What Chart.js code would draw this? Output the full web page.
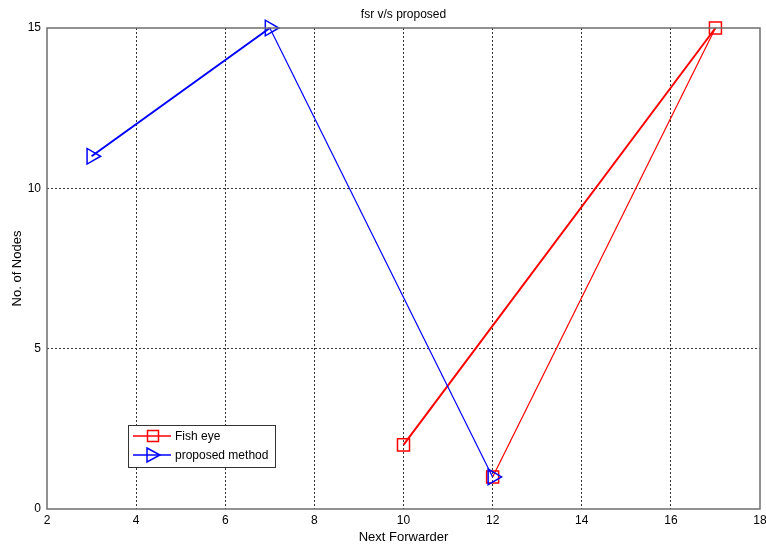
<!DOCTYPE html>
<html>
<head>
<meta charset="utf-8">
<script src="https://cdn.jsdelivr.net/npm/chart.js@4"></script>
<style>
  html, body { margin: 0; padding: 0; background: #fff; }
  #wrap { position: relative; width: 766px; height: 549px; }
</style>
</head>
<body>
<div id="wrap"><canvas id="c" width="766" height="549"></canvas></div>
<script>
// ---------- data ----------
const fishX = [10, 17, 12];
const fishY = [2, 15, 1];
const propX = [3, 7, 12];
const propY = [11, 15, 1];
const xTicks = [2, 4, 6, 8, 10, 12, 14, 16, 18];
const yTicks = [0, 5, 10, 15];
const seriesNames = ['Fish eye', 'proposed method'];
const chartTitle = 'fsr v/s proposed';

const FONT = 'Liberation Sans, Arial, sans-serif';
const pts = (xs, ys) => xs.map((x, i) => ({ x: x, y: ys[i] }));

// first segment drawn heavier, like the original plot
const segWidth = (ctx) => (ctx.p0DataIndex === 0 ? 2 : 1.2);
// no grid line on the box edges
const innerGrid = (n) => (c) => (c.index === 0 || c.index === n - 1 ? 'rgba(0,0,0,0)' : '#333');

// box around plot area + legend inside
const boxPlugin = {
  id: 'box',
  afterDraw(chart) {
    const { ctx, chartArea: a } = chart;
    ctx.save();
    ctx.strokeStyle = '#6e6e6e';
    ctx.lineWidth = 1.5;
    ctx.strokeRect(a.left, a.top, a.right - a.left, a.bottom - a.top);

    // legend
    const lx = 128, ly = 425, lw = 147, lh = 42;
    ctx.fillStyle = '#fff';
    ctx.fillRect(lx, ly, lw, lh);
    ctx.strokeStyle = '#333';
    ctx.lineWidth = 1;
    ctx.strokeRect(lx + 0.5, ly + 0.5, lw, lh);
    chart.data.datasets.forEach((ds, i) => {
      const y = ly + 11 + i * 19;
      ctx.strokeStyle = ds.borderColor;
      ctx.lineWidth = 1.5;
      ctx.beginPath();
      ctx.moveTo(lx + 5, y);
      ctx.lineTo(lx + 43, y);
      ctx.stroke();
      const cx = lx + 25;
      ctx.beginPath();
      if (i === 0) {
        ctx.rect(cx - 5.5, y - 5.5, 11, 11);
      } else {
        ctx.moveTo(cx - 6, y - 7);
        ctx.lineTo(cx + 7, y);
        ctx.lineTo(cx - 6, y + 7);
        ctx.closePath();
      }
      ctx.stroke();
      ctx.fillStyle = '#000';
      ctx.font = '12px ' + FONT;
      ctx.textBaseline = 'middle';
      ctx.fillText(ds.label, lx + 47, y + 1);
    });
    ctx.restore();
  },
};

new Chart(document.getElementById('c').getContext('2d'), {
  type: 'line',
  data: {
    datasets: [
      { label: seriesNames[0], data: pts(fishX, fishY), xAxisID: 'x', yAxisID: 'y', order: 2,
        borderColor: '#ff0000', backgroundColor: 'rgba(0,0,0,0)', pointStyle: 'rect', pointRadius: 8.5,
        pointBorderWidth: 1.5, pointBorderColor: '#ff0000', tension: 0, clip: false,
        segment: { borderWidth: segWidth } },
      { label: seriesNames[1], data: pts(propX, propY), xAxisID: 'x', yAxisID: 'y', order: 1,
        borderColor: '#0000ff', backgroundColor: 'rgba(0,0,0,0)', pointStyle: 'triangle', rotation: 90,
        pointRadius: 9, pointBorderWidth: 1.5, pointBorderColor: '#0000ff', tension: 0, clip: false,
        segment: { borderWidth: segWidth } },
    ],
  },
  options: {
    responsive: false,
    animation: false,
    layout: { autoPadding: false, padding: { left: 0, right: 6, top: 0, bottom: 0 } },
    plugins: { legend: { display: false }, tooltip: { enabled: false } },
    scales: {
      x: {
        type: 'linear', min: 2, max: 18,
        afterBuildTicks: (s) => { s.ticks = xTicks.map((v) => ({ value: v })); },
        afterFit: (s) => { s.height = 40; s.paddingLeft = 0; s.paddingRight = 0; },
        ticks: { color: '#000', padding: 4, font: { family: FONT, size: 12 } },
        grid: { color: innerGrid(xTicks.length), lineWidth: 1, drawTicks: false },
        border: { display: false, dash: [2, 2] },
        title: { display: true, text: 'Next Forwarder', color: '#000', padding: { top: 0, bottom: 4 },
                 font: { family: FONT, size: 13 } },
      },
      // top axis only carries the title, centred over the plot like the original
      x2: {
        type: 'linear', position: 'top', min: 2, max: 18,
        afterFit: (s) => { s.height = 28; s.paddingLeft = 0; s.paddingRight = 0; },
        ticks: { display: false },
        grid: { display: false },
        border: { display: false },
        title: { display: true, text: chartTitle, color: '#000', padding: { top: 7, bottom: 0 },
                 font: { family: FONT, size: 12 } },
      },
      y: {
        type: 'linear', min: 0, max: 15,
        afterBuildTicks: (s) => { s.ticks = yTicks.map((v) => ({ value: v })); },
        afterFit: (s) => { s.width = 47; },
        ticks: { color: '#000', padding: 6, font: { family: FONT, size: 12 } },
        grid: { color: innerGrid(yTicks.length), lineWidth: 1, drawTicks: false },
        border: { display: false, dash: [2, 2] },
        title: { display: true, text: 'No. of Nodes', color: '#000', padding: { top: 10, bottom: 0 },
                 font: { family: FONT, size: 13 } },
      },
    },
  },
  plugins: [boxPlugin],
});
</script>
</body>
</html>
